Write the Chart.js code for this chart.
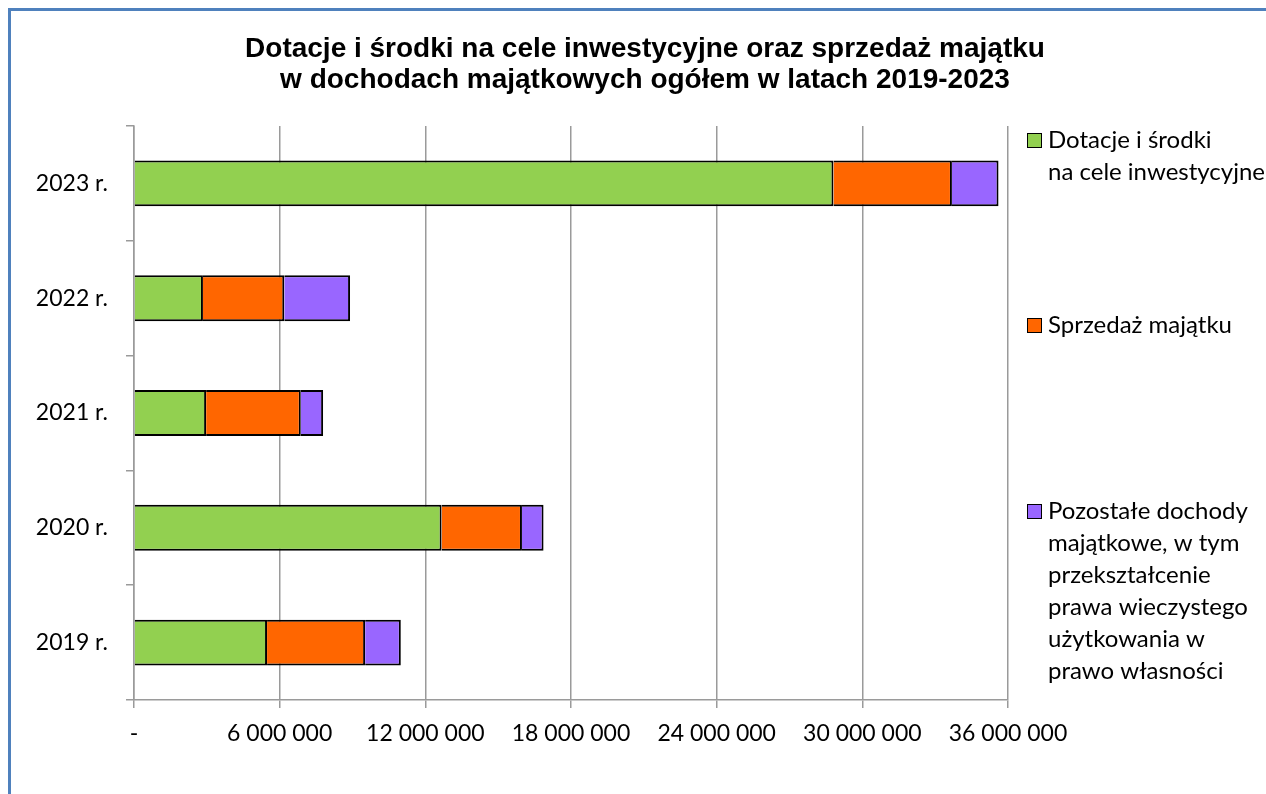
<!DOCTYPE html>
<html>
<head>
<meta charset="utf-8">
<script src="https://cdn.jsdelivr.net/npm/chart.js@4.4.1/dist/chart.umd.min.js"></script>
<style>
  html, body { margin: 0; padding: 0; background: #fff; overflow: hidden; }
  #ramka { position: absolute; left: 8px; top: 8px; width: 2000px; height: 2000px;
           border-left: 3px solid #4F81BD; border-top: 3px solid #4F81BD; }
  #wrap { position: absolute; left: 0; top: 0; width: 1266px; height: 794px; }
</style>
</head>
<body>
<div id="ramka"></div>
<div id="wrap"><canvas id="chartDochody" width="1266" height="794"></canvas></div>
<script>
const lata = ['2019 r.', '2020 r.', '2021 r.', '2022 r.', '2023 r.'];
const dotacje = [5480000, 12670000, 2970000, 2840000, 28810000];
const sprzedaz = [4040000, 3310000, 3900000, 3350000, 4880000];
const pozostale = [1470000, 890000, 920000, 2710000, 1920000];

const tytul = [
  'Dotacje i środki na cele inwestycyjne oraz sprzedaż majątku',
  'w dochodach majątkowych ogółem w latach 2019-2023'
];
const legendaOpisy = [
  ['Dotacje i środki', 'na cele inwestycyjne'],
  ['Sprzedaż majątku'],
  ['Pozostałe dochody', 'majątkowe, w tym', 'przekształcenie', 'prawa wieczystego', 'użytkowania w', 'prawo własności']
];
const osX = [0, 6000000, 12000000, 18000000, 24000000, 30000000, 36000000];

const FONT = 'Lato';

// tytul i legenda rysowane recznie (uklad jak w Excelu)
const tytulILegenda = {
  id: 'tytulILegenda',
  afterDraw(chart) {
    const ctx = chart.ctx;
    ctx.save();
    ctx.fillStyle = '#000';
    ctx.textAlign = 'center';
    ctx.textBaseline = 'middle';
    ctx.font = 'bold 28px "Liberation Sans"';
    tytul.forEach((t, i) => ctx.fillText(t, 645, 49 + i * 31));

    const bazy = [148, 333, 519];
    ctx.textAlign = 'left';
    ctx.textBaseline = 'alphabetic';
    ctx.font = '24px ' + FONT;
    chart.data.datasets.forEach((ds, i) => {
      const y = bazy[i];
      ctx.fillStyle = ds.backgroundColor;
      ctx.fillRect(1027, y - 15, 15, 15);
      ctx.strokeStyle = '#000';
      ctx.lineWidth = 1;
      ctx.strokeRect(1027.5, y - 14.5, 14, 14);
      ctx.fillStyle = '#000';
      legendaOpisy[i].forEach((linia, j) => ctx.fillText(linia, 1048, y + j * 32));
    });
    ctx.restore();
  }
};

const ctx = document.getElementById('chartDochody').getContext('2d');
new Chart(ctx, {
  type: 'bar',
  data: {
    labels: lata,
    datasets: [
      { label: 'Dotacje i środki na cele inwestycyjne', data: dotacje, backgroundColor: '#92D050' },
      { label: 'Sprzedaż majątku', data: sprzedaz, backgroundColor: '#FF6600' },
      { label: 'Pozostałe dochody majątkowe', data: pozostale, backgroundColor: '#9966FF' }
    ]
  },
  options: {
    indexAxis: 'y',
    responsive: false,
    animation: false,
    layout: { padding: { top: 126, right: 258, bottom: 0, left: 0 } },
    datasets: {
      bar: { barPercentage: 0.4, categoryPercentage: 1, borderColor: '#000', borderWidth: 2 }
    },
    plugins: {
      legend: { display: false },
      title: { display: false },
      tooltip: { enabled: false }
    },
    scales: {
      x: {
        stacked: true,
        min: 0,
        max: 36000000,
        afterBuildTicks: scale => { scale.ticks = osX.map(v => ({ value: v })); },
        afterFit: scale => { scale.height = 94; },
        grid: { color: '#9A9A9A', lineWidth: 1.5, tickLength: 8 },
        border: { color: '#9A9A9A', width: 1.5 },
        ticks: {
          color: '#000',
          font: { family: FONT, size: 23 },
          padding: 12,
          maxRotation: 0,
          callback: v => v === 0 ? '-' : String(v).replace(/\B(?=(\d{3})+(?!\d))/g, ' ')
        }
      },
      y: {
        stacked: true,
        reverse: true,
        afterFit: scale => { scale.width = 134; },
        grid: { drawOnChartArea: false, offset: true, color: '#9A9A9A', lineWidth: 1.5, tickLength: 8 },
        border: { color: '#9A9A9A', width: 1.5 },
        ticks: {
          color: '#000',
          font: { family: FONT, size: 23 },
          padding: 18
        }
      }
    }
  },
  plugins: [tytulILegenda]
});
</script>
</body>
</html>
